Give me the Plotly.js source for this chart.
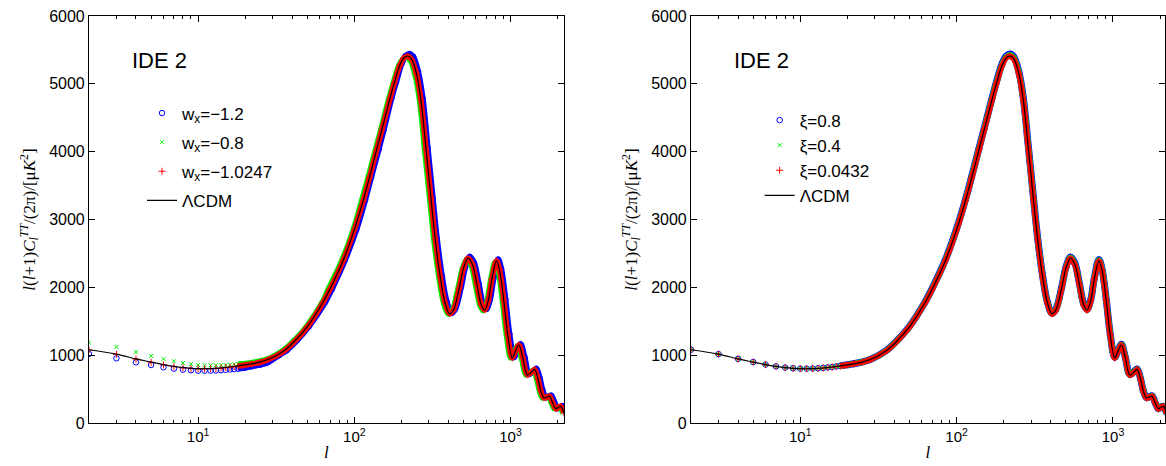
<!DOCTYPE html>
<html>
<head>
<meta charset="utf-8">
<script src="https://cdn.plot.ly/plotly-3.0.1.min.js"></script>
<style>html,body{margin:0;padding:0;background:#fff;}#chart{width:1166px;height:466px;}</style>
</head>
<body>
<div id="chart"></div>
<script>
// ---------- data ----------
const ellLow = [2,3,4,5,6,7,8,9,10,11,12,13,14,15,16,17,18,19,20];
const ellHigh = [22,25,28,32,36,42,50,63,70,85,100,114,125,139,150,169,180,196,208,220,232,250,267,288,310,330,355,380,407,430,470,500,535,570,610,650,683,720,760,813,850,905,960,1026,1080,1132,1200,1280,1350,1425,1500,1560,1636,1700,1780,1860,1950,2020,2100,2200];

// LCDM (both panels)
const lcdmLow = [1080,1015,945,898,860,834,816,806,801,800,802,806,811,818,825,833,841,849,857];
const lcdmHigh = [872,898,935,1000,1075,1220,1420,1780,1980,2400,2850,3280,3620,4030,4320,4780,5010,5280,5385,5410,5370,5150,4760,4030,3300,2700,2150,1780,1610,1660,1990,2280,2430,2340,2040,1740,1665,1800,2120,2390,2260,1810,1300,960,1070,1150,960,710,740,790,650,480,370,380,395,300,210,230,245,150];

// Left panel: w_x = -1.2 (blue)
const wBlueLow = [1018,954,895,855,821,801,786,777,771,770,771,774,778,783,789,795,802,809,816];
const wBlueEllHigh = [22,25,28,33,37,43,51,65,72,87,103,117,128,143,154,173,185,201,213,226,238,256,274,295,318,338,364,390,417,441,482,513,548,584,625,666,700,738,779,833,871,928,984,1052,1107,1160,1230,1312,1384,1461,1538,1599,1677,1743,1825,1907,1999,2071,2153,2255];
const wBlueHigh = [835,860,895,1000,1075,1220,1420,1780,1980,2400,2850,3280,3620,4030,4320,4790,5025,5300,5410,5440,5400,5180,4780,4050,3310,2710,2160,1790,1620,1675,2005,2300,2450,2360,2055,1755,1680,1815,2140,2410,2275,1820,1310,970,1080,1160,970,720,750,800,660,490,378,388,403,306,216,236,250,155];

// Left panel: w_x = -0.8 (green)
const wGreenLow = [1184,1121,1047,988,944,910,885,866,855,851,850,851,853,856,860,865,870,876,882];
const wGreenEllHigh = [22,25,28,31,35,41,49,62,68,83,98,111,122,136,147,165,176,191,203,215,227,244,261,281,303,322,347,371,398,420,459,489,523,557,596,635,667,703,743,794,830,884,938,1002,1055,1106,1172,1251,1319,1392,1466,1524,1598,1661,1739,1817,1905,1974,2052,2149];
const wGreenHigh = [895,918,950,1000,1075,1220,1420,1780,1980,2400,2850,3280,3620,4030,4320,4770,4995,5260,5360,5385,5345,5130,4745,4020,3295,2695,2145,1775,1605,1650,1980,2265,2415,2330,2030,1735,1655,1790,2105,2375,2250,1805,1295,955,1062,1140,955,705,735,782,645,476,366,376,390,296,207,226,240,148];

// Left panel: w_x = -1.0247 (red)
const wRedLow = [1076,1012,941,895,857,831,813,803,798,797,799,803,808,815,822,830,838,846,854];
const wRedHigh = [869,895,932,997,1072,1216,1415,1775,1975,2395,2845,3275,3615,4025,4315,4775,5005,5275,5380,5405,5365,5150,4765,4040,3310,2710,2155,1785,1612,1660,1988,2278,2428,2342,2045,1745,1668,1800,2118,2388,2262,1815,1305,962,1068,1148,962,712,740,788,652,482,372,380,393,302,212,230,243,152];

// Right panel: xi = 0.8 (blue)
const xiBlueLow = [1080,1016,946,899,861,835,817,807,802,801,803,807,812,819,826,834,842,850,858];
const xiBlueHigh = [873,900,937,1003,1079,1225,1426,1788,1990,2412,2864,3296,3638,4050,4340,4800,5032,5305,5410,5440,5400,5180,4790,4060,3325,2720,2165,1790,1618,1670,2002,2295,2448,2358,2055,1752,1675,1812,2135,2408,2278,1825,1312,968,1078,1160,968,716,746,797,656,485,374,384,399,303,212,232,247,151];
// Right panel: xi = 0.4 (green)
const xiGreenLow = [1080,1015,945,898,860,834,816,806,801,800,802,806,811,818,825,833,841,849,857];
const xiGreenHigh = [872,899,936,1001,1077,1222,1423,1784,1985,2406,2857,3288,3629,4040,4330,4790,5020,5292,5398,5425,5385,5165,4775,4045,3312,2710,2158,1785,1614,1665,1996,2287,2439,2349,2048,1746,1670,1806,2128,2399,2269,1818,1306,964,1074,1155,964,713,743,793,653,482,372,382,397,302,211,231,246,151];
// Right panel: xi = 0.0432 (red)
const xiRedLow = [1079,1014,944,897,859,833,815,805,800,799,801,805,810,817,824,832,840,848,856];
const xiRedHigh = [871,897,934,999,1074,1219,1419,1778,1978,2398,2848,3278,3618,4028,4318,4778,5008,5278,5383,5408,5368,5148,4758,4028,3298,2698,2148,1778,1608,1658,1988,2278,2428,2338,2038,1738,1663,1798,2118,2388,2258,1808,1298,958,1068,1148,958,708,738,788,648,478,368,378,393,298,208,228,243,148];

const leftNames = ['w<sub>x</sub>=\u22121.2', 'w<sub>x</sub>=\u22120.8', 'w<sub>x</sub>=\u22121.0247', '\u039BCDM'];
const rightNames = ['\u03BE=0.8', '\u03BE=0.4', '\u03BE=0.0432', '\u039BCDM'];
const tickVals = [10, 100, 1000];
const tickText = ['10<sup>1</sup>', '10<sup>2</sup>', '10<sup>3</sup>'];
const minorVals = [3,4,5,6,7,8,9,20,30,40,50,60,70,80,90,200,300,400,500,600,700,800,900,2000];

// ---------- build traces ----------
const BLUE = '#0000ff', GREEN = '#00ee00', RED = '#ff0000';
const BAND_FROM = 16; // continuous band where markers overlap (l >= 18)

function band(xLow, xHigh, yLow, yHigh, color, width, xa, ya) {
  return {x: xLow.slice(BAND_FROM).concat(xHigh), y: yLow.slice(BAND_FROM).concat(yHigh),
    mode: 'lines', line: {color: color, width: width, shape: 'spline'},
    showlegend: false, hoverinfo: 'skip', xaxis: xa, yaxis: ya};
}
function marks(xLow, xHigh, yLow, yHigh, color, symbol, size, lw, name, xa, ya, leg, grp) {
  return {x: xLow.concat(xHigh), y: yLow.concat(yHigh), mode: 'markers', name: name,
    marker: {color: color, symbol: symbol, size: size, line: {color: color, width: lw}},
    xaxis: xa, yaxis: ya, legend: leg, legendgroup: grp};
}
function lcdm(name, xa, ya, leg, grp) {
  return {x: ellLow.concat(ellHigh), y: lcdmLow.concat(lcdmHigh), mode: 'lines', name: name,
    line: {color: '#000', width: 1.2, shape: 'spline'}, xaxis: xa, yaxis: ya, legend: leg, legendgroup: grp};
}

const traces = [
  // left
  band(ellLow, wBlueEllHigh, wBlueLow, wBlueHigh, BLUE, 6, 'x', 'y'),
  marks(ellLow, wBlueEllHigh, wBlueLow, wBlueHigh, BLUE, 'circle-open', 5.5, 1, leftNames[0], 'x', 'y', 'legend', 'a1'),
  band(ellLow, wGreenEllHigh, wGreenLow, wGreenHigh, GREEN, 5, 'x', 'y'),
  marks(ellLow, wGreenEllHigh, wGreenLow, wGreenHigh, GREEN, 'x-thin-open', 4, 1, leftNames[1], 'x', 'y', 'legend', 'a2'),
  band(ellLow, ellHigh, wRedLow, wRedHigh, RED, 5.5, 'x', 'y'),
  marks(ellLow, ellHigh, wRedLow, wRedHigh, RED, 'cross-thin-open', 5, 1, leftNames[2], 'x', 'y', 'legend', 'a3'),
  lcdm(leftNames[3], 'x', 'y', 'legend', 'a4'),
  // right
  band(ellLow, ellHigh, xiBlueLow, xiBlueHigh, BLUE, 7, 'x2', 'y2'),
  marks(ellLow, ellHigh, xiBlueLow, xiBlueHigh, BLUE, 'circle-open', 5.5, 1, rightNames[0], 'x2', 'y2', 'legend2', 'b1'),
  band(ellLow, ellHigh, xiGreenLow, xiGreenHigh, GREEN, 6, 'x2', 'y2'),
  marks(ellLow, ellHigh, xiGreenLow, xiGreenHigh, GREEN, 'x-thin-open', 4, 1, rightNames[1], 'x2', 'y2', 'legend2', 'b2'),
  band(ellLow, ellHigh, xiRedLow, xiRedHigh, RED, 5.5, 'x2', 'y2'),
  marks(ellLow, ellHigh, xiRedLow, xiRedHigh, RED, 'cross-thin-open', 5, 1, rightNames[2], 'x2', 'y2', 'legend2', 'b3'),
  lcdm(rightNames[3], 'x2', 'y2', 'legend2', 'b4')
];

// ---------- layout ----------
const FONT = 'Liberation Sans, Arial, Helvetica, sans-serif';
const SERIF = 'Liberation Serif, Times New Roman, serif';
const yTitle = '<i>l</i>(<i>l</i>+1)<i>C</i><sub><i>l</i></sub><sup><i>TT</i></sup>/(2\u03C0)/[\u03BC<i>K</i><sup>2</sup>]';

function xAxis(domain, maxL, anchor) {
  return {type: 'log', domain: domain, range: [Math.log10(2), Math.log10(maxL)], anchor: anchor,
    tickmode: 'array', tickvals: tickVals, ticktext: tickText, ticks: 'inside', ticklen: 6,
    tickcolor: '#000', tickwidth: 1, mirror: 'allticks', showline: true, linecolor: '#000', linewidth: 1,
    showgrid: false, zeroline: false, tickfont: {family: FONT, size: 15, color: '#000'},
    minor: {tickmode: 'array', tickvals: minorVals, ticks: 'inside', ticklen: 3, tickcolor: '#000', tickwidth: 1, showgrid: false},
    title: {text: '<i>l</i>', font: {family: SERIF, size: 17, color: '#000'}, standoff: 2},
    automargin: false};
}
function yAxis(anchor) {
  return {domain: [0.0923, 0.9657], range: [0, 6000], dtick: 1000, anchor: anchor,
    ticks: 'inside', ticklen: 6, tickcolor: '#000', tickwidth: 1, mirror: 'allticks',
    showline: true, linecolor: '#000', linewidth: 1, showgrid: false, zeroline: false,
    tickfont: {family: FONT, size: 16, color: '#000'},
    title: {text: yTitle, font: {family: SERIF, size: 17, color: '#000'}, standoff: 9},
    automargin: false};
}

const layout = {
  width: 1166, height: 466, margin: {l: 0, r: 0, t: 0, b: 0},
  paper_bgcolor: '#fff', plot_bgcolor: '#fff',
  font: {family: FONT, color: '#000'},
  xaxis: xAxis([0.0763, 0.4837], 2200, 'y'),
  yaxis: yAxis('x'),
  xaxis2: xAxis([0.5926, 0.9991], 2150, 'y2'),
  yaxis2: yAxis('x2'),
  legend: {x: 0.1218, y: 0.795, xanchor: 'left', yanchor: 'top', bgcolor: 'rgba(0,0,0,0)',
    borderwidth: 0, font: {family: FONT, size: 17, color: '#000'}, tracegroupgap: 4, traceorder: 'grouped'},
  legend2: {x: 0.6515, y: 0.78, xanchor: 'left', yanchor: 'top', bgcolor: 'rgba(0,0,0,0)',
    borderwidth: 0, font: {family: FONT, size: 17, color: '#000'}, tracegroupgap: 0, traceorder: 'grouped'},
  annotations: [
    {text: 'IDE 2', xref: 'paper', yref: 'paper', x: 0.1112, y: 0.871, xanchor: 'left', yanchor: 'middle',
     showarrow: false, font: {family: FONT, size: 22, color: '#000'}},
    {text: 'IDE 2', xref: 'paper', yref: 'paper', x: 0.6275, y: 0.871, xanchor: 'left', yanchor: 'middle',
     showarrow: false, font: {family: FONT, size: 22, color: '#000'}}
  ],
  showlegend: true
};

Plotly.newPlot('chart', traces, layout, {staticPlot: true, displayModeBar: false});
</script>
</body>
</html>
